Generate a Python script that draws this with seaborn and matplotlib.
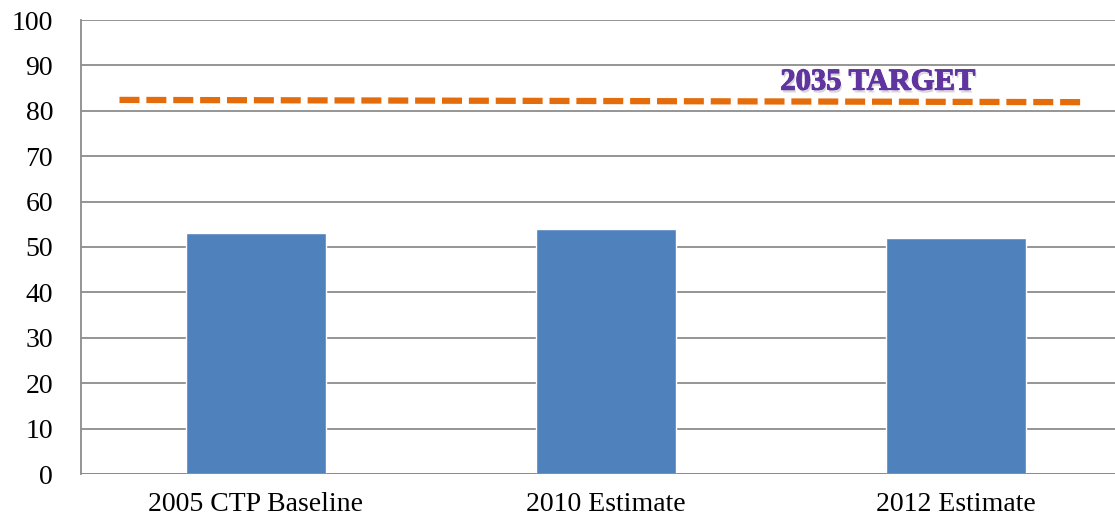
import matplotlib
matplotlib.use("Agg")
import matplotlib.pyplot as plt
import matplotlib.patheffects as pe
import seaborn as sns
import pandas as pd

categories = ["2005 CTP Baseline", "2010 Estimate", "2012 Estimate"]
values = [53, 54, 52]
target_label = "2035 TARGET"
target_x = [-0.39, 2.37]
target_y = [82.4, 81.9]
yticks = list(range(0, 101, 10))

sns.set_theme(style="white")
plt.rcParams['font.family'] = ['Liberation Serif', 'DejaVu Serif']

W, H = 1115, 519
fig = plt.figure(figsize=(W / 100, H / 100), dpi=100)
ax = fig.add_axes([81 / W, 45 / H, 1050 / W, 454 / H])

df = pd.DataFrame({"cat": categories, "val": values})
sns.barplot(data=df, x="cat", y="val", color="#4F81BD", width=0.4,
            saturation=1, ax=ax, zorder=3)

ax.set_xlim(-0.5, 2.5)
ax.set_ylim(0, 100)
ax.set_yticks(yticks)
ax.yaxis.grid(True, color="#8C8C8C", linewidth=1.3, zorder=0)
ax.set_axisbelow(True)
for s in ["top", "right", "bottom"]:
    ax.spines[s].set_visible(False)
ax.spines["left"].set_color("#8C8C8C")
ax.spines["left"].set_linewidth(1.3)
ax.axhline(0, color="#8C8C8C", linewidth=1.3, zorder=4)
ax.set_xlabel("")
ax.set_ylabel("")
ax.tick_params(axis="both", length=0, labelsize=20, colors="black")
ax.tick_params(axis="x", pad=13)
ax.tick_params(axis="y", pad=20)

ax.plot(target_x, target_y, color="#E46C0A", linewidth=4.5,
        linestyle=(0, (3.2, 1.1)), dash_capstyle="butt", zorder=5, solid_capstyle="butt")
ax.text(1.776, 86.3, target_label, color="#6035A0", fontsize=22, fontweight="bold",
        ha="center", va="center", zorder=6,
        path_effects=[pe.withSimplePatchShadow(offset=(1, -2), shadow_rgbFace="#BBBBBB", alpha=0.6),
                      pe.Stroke(linewidth=0.8, foreground="#6035A0"),
                      pe.Normal()])

fig.savefig("out.png", dpi=100)
